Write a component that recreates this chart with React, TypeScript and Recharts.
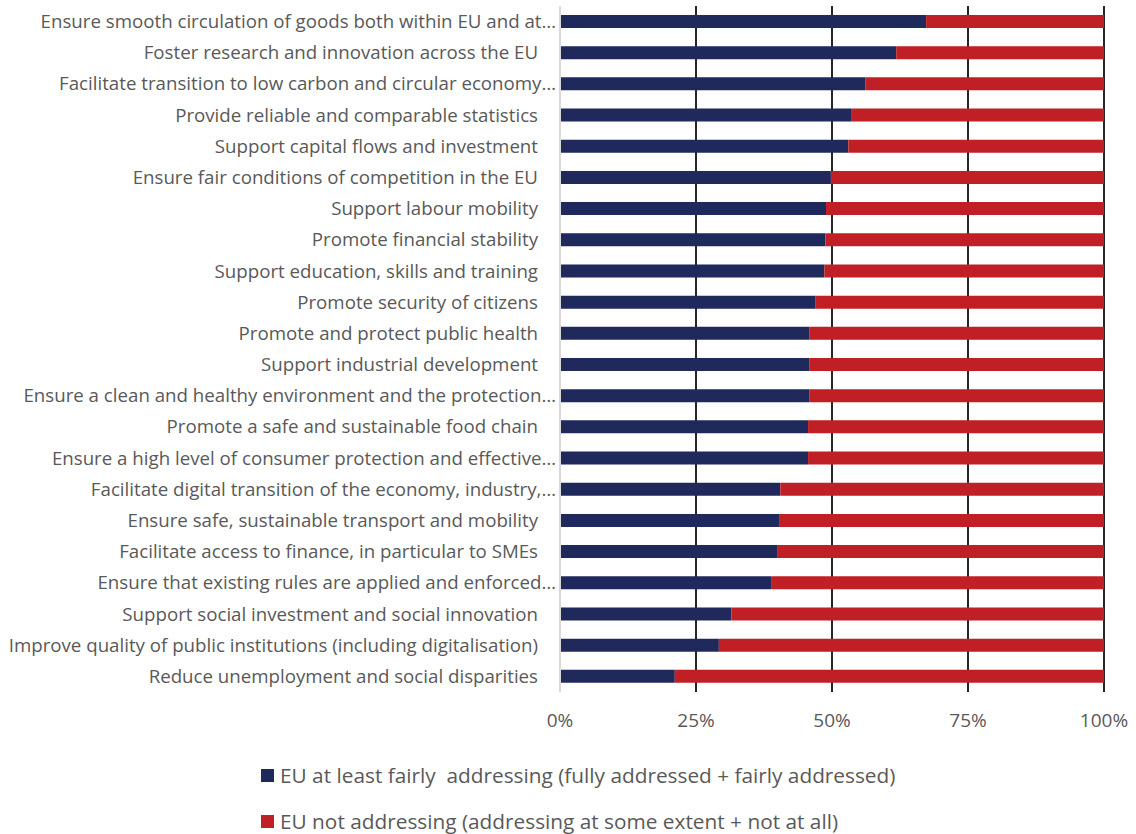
import React from "react";
import {
  BarChart,
  Bar,
  XAxis,
  YAxis,
  CartesianGrid,
  Legend,
} from "recharts";

const categories = [
  "Ensure smooth circulation of goods both within EU and at…",
  "Foster research and innovation across the EU",
  "Facilitate transition to low carbon and circular economy…",
  "Provide reliable and comparable statistics",
  "Support capital flows and investment",
  "Ensure fair conditions of competition in the EU",
  "Support labour mobility",
  "Promote financial stability",
  "Support education, skills and training",
  "Promote security of citizens",
  "Promote and protect public health",
  "Support industrial development",
  "Ensure a clean and healthy environment and the protection…",
  "Promote a safe and sustainable food chain",
  "Ensure a high level of consumer protection and effective…",
  "Facilitate digital transition of the economy, industry,…",
  "Ensure safe, sustainable transport and mobility",
  "Facilitate access to finance, in particular to SMEs",
  "Ensure that existing rules are applied and enforced…",
  "Support social investment and social innovation",
  "Improve quality of public institutions (including digitalisation)",
  "Reduce unemployment and social disparities",
];

// share (%) of respondents saying the EU is at least fairly addressing the objective
const addressing = [
  67.3, 61.8, 56.1, 53.5, 53.0, 49.8, 48.9, 48.8, 48.6, 46.9, 45.8, 45.8, 45.8,
  45.6, 45.6, 40.5, 40.4, 39.9, 38.8, 31.5, 29.2, 21.1,
];

// share (%) saying the EU is not addressing it
const notAddressing = [
  32.7, 38.2, 43.9, 46.5, 47.0, 50.2, 51.1, 51.2, 51.4, 53.1, 54.2, 54.2, 54.2,
  54.4, 54.4, 59.5, 59.6, 60.1, 61.2, 68.5, 70.8, 78.9,
];

const xTicks = [0, 25, 50, 75, 100];

const BLUE = "#1f295c";
const RED = "#c01f25";
const TEXT = "#595959";
const FONT = "'Open Sans', sans-serif";

const SERIES = [
  {
    key: "addressing",
    name: "EU at least fairly  addressing (fully addressed + fairly addressed)",
    color: BLUE,
  },
  {
    key: "notAddressing",
    name: "EU not addressing (addressing at some extent + not at all)",
    color: RED,
  },
];

const data = categories.map((name, i) => ({
  name,
  addressing: addressing[i],
  notAddressing: notAddressing[i],
}));

const CategoryTick = (props: any) => {
  const { x, y, payload } = props;
  const label: string = payload.value;
  // Excel-style: truncated labels run a bit further right than full ones
  const dx = label.endsWith("…") ? -4 : -22;
  return (
    <text
      x={x + dx}
      y={y - 1}
      textAnchor="end"
      dominantBaseline="central"
      fill={TEXT}
      fontSize={18.7}
      fontFamily={FONT}
    >
      {label}
    </text>
  );
};

const PercentTick = (props: any) => {
  const { x, y, payload } = props;
  return (
    <text
      x={x}
      y={y + 35}
      textAnchor="middle"
      fill={TEXT}
      fontSize={19}
      fontFamily={FONT}
    >
      {payload.value}%
    </text>
  );
};

const LegendBox = () => (
  <div
    style={{
      height: 102,
      paddingLeft: 261,
      paddingTop: 20,
      boxSizing: "border-box",
      fontFamily: FONT,
      fontSize: 20.8,
      color: TEXT,
    }}
  >
    {SERIES.map((s) => (
      <div
        key={s.key}
        style={{
          display: "flex",
          alignItems: "center",
          height: 46,
          whiteSpace: "pre",
        }}
      >
        <span
          style={{
            width: 13,
            height: 13,
            background: s.color,
            marginRight: 6,
            display: "inline-block",
          }}
        />
        {s.name}
      </div>
    ))}
  </div>
);

const gridLines = ({ xAxis, offset }: any) =>
  xTicks
    .filter((t) => t > 0)
    .map((t) =>
      xAxis && typeof xAxis.scale === "function"
        ? xAxis.scale(t)
        : offset.left + (offset.width * t) / 100
    );

export default function App() {
  return (
    <div style={{ position: "absolute", left: 0, top: 0 }}>
      <BarChart
        width={1136}
        height={834}
        data={data}
        layout="vertical"
        margin={{ top: 6, right: 32, left: 0, bottom: 0 }}
        barSize={13}
      >
        <CartesianGrid
          horizontal={false}
          stroke="#262626"
          strokeWidth={2}
          verticalCoordinatesGenerator={gridLines}
        />
        <XAxis
          type="number"
          domain={[0, 100]}
          ticks={xTicks}
          axisLine={false}
          tickLine={false}
          tickSize={0}
          tickMargin={0}
          height={40}
          tick={<PercentTick />}
          interval={0}
        />
        <YAxis
          type="category"
          dataKey="name"
          width={560}
          axisLine={{ stroke: "#d9d9d9", strokeWidth: 2 }}
          tickLine={false}
          tickSize={0}
          tickMargin={0}
          interval={0}
          tick={<CategoryTick />}
        />
        {SERIES.map((s) => (
          <Bar
            key={s.key}
            dataKey={s.key}
            name={s.name}
            stackId="a"
            fill={s.color}
            isAnimationActive={false}
          />
        ))}
        <Legend
          verticalAlign="bottom"
          align="left"
          content={<LegendBox />}
        />
      </BarChart>
    </div>
  );
}
